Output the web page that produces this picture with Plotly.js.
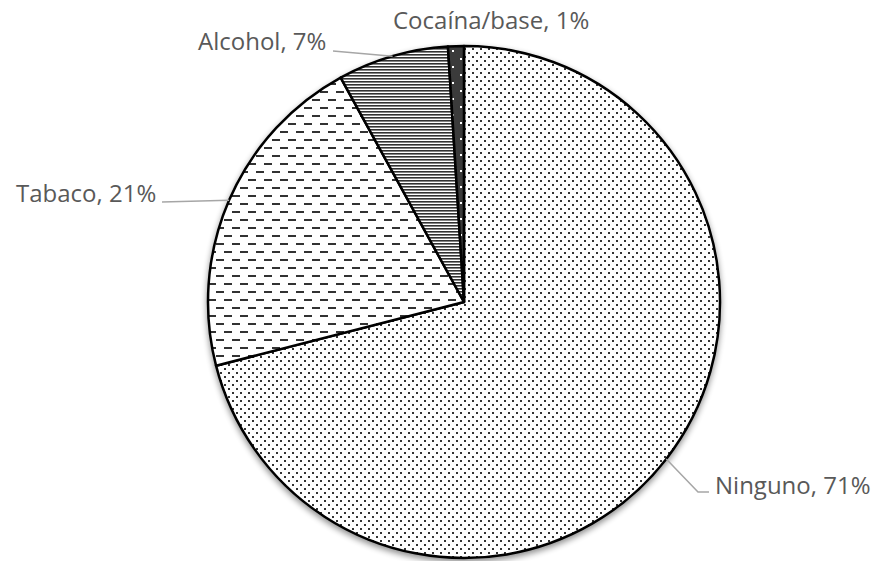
<!DOCTYPE html>
<html>
<head>
<meta charset="utf-8">
<script src="https://cdn.plot.ly/plotly-3.0.1.min.js"></script>
<style>
  html, body { margin: 0; padding: 0; background: #fff; }
  #chart { width: 877px; height: 561px; }
</style>
</head>
<body>
<div id="chart"></div>
<script>
// Consumo de sustancias (participación de cada categoría)
const categories = ['Ninguno', 'Tabaco', 'Alcohol', 'Cocaína/base'];
const shares = [71, 21, 7, 1];

// ---- layout constants (pixels) ----
const W = 877, H = 561;
const PIE = { cx: 464, cy: 302, r: 256 };

// label centre (x, middle y) and leader-line start points (with elbow where needed)
const labelCenter = [[792, 484.5], [86, 193], [262, 40.5], [491, 19.5]];
const leaderFrom = [[[709, 492], [698, 492]], [[162, 202]], [[333, 51]], null];

// hatch tiles for each slice: [x, y, w, h, colour] rectangles on a background
const tiles = [
  { w: 8,  h: 8,  bg: '#ffffff', marks: [[0, 0, 2, 2, '#333'], [4, 4, 2, 2, '#333']] },
  { w: 16, h: 16, bg: '#ffffff', marks: [[8, 3, 8, 2, '#333'], [0, 11, 8, 2, '#333']] },
  { w: 4,  h: 3,  bg: '#ffffff', marks: [[0, 0, 4, 1.6, '#333']] },
  { w: 16, h: 16, bg: '#3a3a3a', marks: [[4, 2, 2, 2, '#fff'], [12, 10, 2, 2, '#fff']] }
];

const px2x = x => x / W;
const px2y = y => 1 - y / H;

const total = shares.reduce((a, b) => a + b, 0);
const pctText = shares.map(v => Math.round(v / total * 100) + '%');

// mid-angle point on the rim of each slice (clockwise from 12 o'clock)
const rimPoints = [];
let acc = 0;
shares.forEach(v => {
  const th = (acc + v / 2) / total * 2 * Math.PI;
  rimPoints.push([PIE.cx + PIE.r * Math.sin(th), PIE.cy - PIE.r * Math.cos(th)]);
  acc += v;
});

const annotations = categories.map((c, i) => ({
  text: c + ', ' + pctText[i],
  xref: 'paper', yref: 'paper',
  x: px2x(labelCenter[i][0]), y: px2y(labelCenter[i][1]),
  xanchor: 'center', yanchor: 'middle',
  showarrow: false,
  font: { family: 'Open Sans, Noto Sans, sans-serif', size: 24, color: '#595959' }
}));

const shapes = [];
leaderFrom.forEach((pts, i) => {
  if (!pts) return;
  const all = pts.concat([rimPoints[i]]);
  const path = all.map((p, k) => (k ? 'L' : 'M') + px2x(p[0]) + ',' + px2y(p[1])).join(' ');
  shapes.push({
    type: 'path', xref: 'paper', yref: 'paper', path: path,
    line: { color: '#a6a6a6', width: 1.5 }, layer: 'above'
  });
});

const trace = {
  type: 'pie',
  labels: categories,
  values: shares,
  sort: false,
  direction: 'clockwise',
  rotation: 0,
  textinfo: 'none',
  hoverinfo: 'none',
  showlegend: false,
  domain: {
    x: [px2x(PIE.cx - PIE.r), px2x(PIE.cx + PIE.r)],
    y: [px2y(PIE.cy + PIE.r), px2y(PIE.cy - PIE.r)]
  },
  marker: {
    colors: ['#ffffff', '#ffffff', '#ffffff', '#3a3a3a'],
    line: { color: '#000000', width: 2.5 },
    pattern: {
      shape: ['.', '-', '-', '.'],
      fgcolor: ['#333333', '#333333', '#333333', '#ffffff'],
      size: [6, 8, 3, 8],
      solidity: [0.1, 0.25, 0.5, 0.1]
    }
  }
};

const layout = {
  width: W, height: H,
  margin: { l: 0, r: 0, t: 0, b: 0 },
  paper_bgcolor: '#ffffff',
  annotations: annotations,
  shapes: shapes
};

Plotly.newPlot('chart', [trace], layout, { displayModeBar: false, staticPlot: true }).then(gd => {
  const NS = 'http://www.w3.org/2000/svg';
  const svg = gd.querySelector('svg.main-svg');
  const defs = svg.querySelector('defs');

  // custom hatch tiles
  tiles.forEach((t, i) => {
    const p = document.createElementNS(NS, 'pattern');
    p.setAttribute('id', 'hatch-' + i);
    p.setAttribute('patternUnits', 'userSpaceOnUse');
    p.setAttribute('width', t.w);
    p.setAttribute('height', t.h);
    const bg = document.createElementNS(NS, 'rect');
    bg.setAttribute('width', t.w); bg.setAttribute('height', t.h); bg.setAttribute('fill', t.bg);
    p.appendChild(bg);
    t.marks.forEach(m => {
      const r = document.createElementNS(NS, 'rect');
      r.setAttribute('x', m[0]); r.setAttribute('y', m[1]);
      r.setAttribute('width', m[2]); r.setAttribute('height', m[3]);
      r.setAttribute('fill', m[4]);
      p.appendChild(r);
    });
    defs.appendChild(p);
  });

  // soft drop shadow under the pie
  const f = document.createElementNS(NS, 'filter');
  f.setAttribute('id', 'pie-shadow');
  f.setAttribute('x', '-10%'); f.setAttribute('y', '-10%');
  f.setAttribute('width', '120%'); f.setAttribute('height', '125%');
  f.innerHTML =
    '<feGaussianBlur in="SourceAlpha" stdDeviation="3"/>' +
    '<feOffset dy="3" result="off"/>' +
    '<feComponentTransfer><feFuncA type="linear" slope="0.45"/></feComponentTransfer>' +
    '<feMerge><feMergeNode/><feMergeNode in="SourceGraphic"/></feMerge>';
  defs.appendChild(f);

  gd.querySelectorAll('.pielayer .trace').forEach(g => g.setAttribute('filter', 'url(#pie-shadow)'));
  gd.querySelectorAll('.pielayer .slice').forEach((s, idx) => {
    const d = s.__data__;
    const i = (d && d.i != null) ? d.i : idx;
    const surf = s.querySelector('path.surface');
    if (surf) surf.style.fill = 'url(#hatch-' + i + ')';
  });
});
</script>
</body>
</html>
